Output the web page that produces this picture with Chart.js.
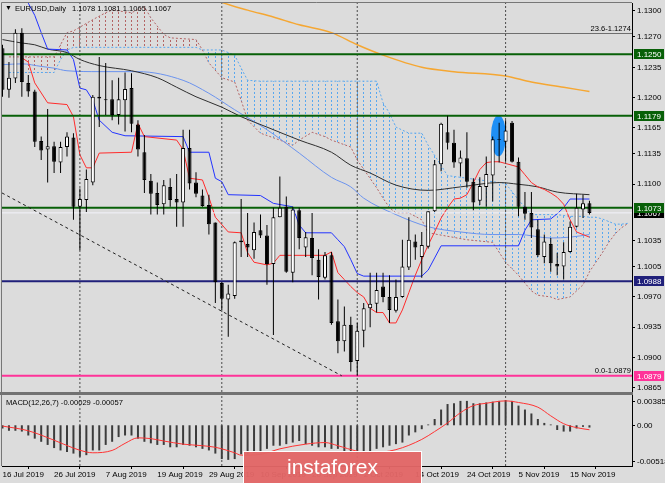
<!DOCTYPE html>
<html>
<head>
<meta charset="utf-8">
<script src="https://cdn.jsdelivr.net/npm/chart.js@4/dist/chart.umd.min.js"></script>
<style>
  html, body { margin: 0; padding: 0; background: #dcdcdc; }
  #wrap { position: relative; width: 665px; height: 483px; overflow: hidden; background: #dcdcdc; }
  #wrap canvas { position: absolute; left: 0; }
  #main { top: 0; }
  #macd { top: 395px; }
  #mark {
    position: absolute; left: 243px; top: 451px; width: 179px; height: 40px;
    box-sizing: border-box; border: 1px solid #fff; background: rgba(226, 102, 102, 0.96);
    color: #fff; font: 21px 'Liberation Sans', Arial, sans-serif; line-height: 30px; text-align: center;
  }
</style>
</head>
<body>
<div id="wrap">
  <canvas id="main" width="665" height="395"></canvas>
  <canvas id="macd" width="665" height="88"></canvas>
  <div id="mark">instaforex</div>
</div>
<script>
// EURUSD daily, Ichimoku + MAs + MACD(12,26,7)

const FONT = "'Liberation Sans', Arial, sans-serif";

// ── Data ─────────────────────────────────────────────────────

const OPEN = [
  1.1257, 1.1209, 1.1222, 1.1275, 1.1217, 1.1207, 1.1150, 1.1140, 1.1144, 1.1125,
  1.1143, 1.1154, 1.1074, 1.1082, 1.1102, 1.1201, 1.1197, 1.1198, 1.1180, 1.1197,
  1.1211, 1.1169, 1.1137, 1.1104, 1.1090, 1.1077, 1.1097, 1.1083, 1.1079, 1.1142,
  1.1102, 1.1087, 1.1076, 1.1056, 1.0986, 1.0967, 1.0971, 1.1035, 1.1031, 1.1024,
  1.1047, 1.1041, 1.1008, 1.1062, 1.1074, 1.0998, 1.1070, 1.1027, 1.1038, 1.1013,
  1.0992, 1.1018, 1.0942, 1.0919, 1.0938, 1.0896, 1.0931, 1.0957, 1.0962, 1.0982,
  1.0970, 1.0954, 1.0970, 1.1004, 1.1034, 1.1016, 1.1028, 1.1069, 1.1123, 1.1160,
  1.1148, 1.1124, 1.1130, 1.1103, 1.1081, 1.1097, 1.1110, 1.1152, 1.1149, 1.1171,
  1.1126, 1.1074, 1.1067, 1.1048, 1.1016, 1.1031, 1.1008, 1.1005, 1.1022, 1.1051,
  1.1071, 1.1078
];
const HIGH = [
  1.1261, 1.1241, 1.1279, 1.1280, 1.1226, 1.1209, 1.1155, 1.1187, 1.1149, 1.1149,
  1.1160, 1.1159, 1.1095, 1.1117, 1.1203, 1.1247, 1.1240, 1.1220, 1.1223, 1.1229,
  1.1228, 1.1174, 1.1157, 1.1112, 1.1102, 1.1105, 1.1107, 1.1112, 1.1163, 1.1163,
  1.1114, 1.1094, 1.1088, 1.1056, 1.0987, 1.0984, 1.1034, 1.1083, 1.1067, 1.1056,
  1.1065, 1.1053, 1.1073, 1.1109, 1.1086, 1.1074, 1.1073, 1.1045, 1.1067, 1.1025,
  1.1022, 1.1022, 1.0967, 1.0959, 1.0947, 1.0940, 1.0963, 1.0998, 1.0998, 1.0998,
  1.0995, 1.0990, 1.1036, 1.1062, 1.1042, 1.1045, 1.1069, 1.1128, 1.1171, 1.1179,
  1.1163, 1.1139, 1.1160, 1.1107, 1.1108, 1.1132, 1.1155, 1.1171, 1.1174, 1.1173,
  1.1131, 1.1091, 1.1091, 1.1059, 1.1042, 1.1038, 1.1021, 1.1033, 1.1057, 1.1089,
  1.1088, 1.1081
];
const LOW = [
  1.1201, 1.1200, 1.1217, 1.1201, 1.1201, 1.1143, 1.1128, 1.1102, 1.1113, 1.1113,
  1.1132, 1.1059, 1.1024, 1.1068, 1.1099, 1.1166, 1.1180, 1.1174, 1.1169, 1.1161,
  1.1160, 1.1132, 1.1090, 1.1065, 1.1065, 1.1065, 1.1074, 1.1051, 1.1051, 1.1094,
  1.1085, 1.1074, 1.1042, 1.0963, 1.0955, 1.0924, 1.0968, 1.1016, 1.1016, 1.1014,
  1.1038, 1.0984, 1.0926, 1.1062, 1.0998, 1.0987, 1.1025, 1.1016, 1.0995, 1.0967,
  1.0990, 1.0938, 1.0905, 1.0907, 1.0884, 1.0879, 1.0912, 1.0935, 1.0952, 1.0964,
  1.0940, 1.0952, 1.0969, 1.1001, 1.1013, 1.0992, 1.1026, 1.1068, 1.1115, 1.1140,
  1.1119, 1.1109, 1.1096, 1.1070, 1.1076, 1.1074, 1.1080, 1.1125, 1.1126, 1.1125,
  1.1063, 1.1059, 1.1038, 1.1016, 1.1009, 1.0999, 1.0995, 1.0990, 1.1021, 1.1050,
  1.1061, 1.1065
];
const CLOSE = [
  1.1209, 1.1223, 1.1275, 1.1218, 1.1207, 1.1149, 1.1139, 1.1144, 1.1126, 1.1143,
  1.1155, 1.1074, 1.1083, 1.1106, 1.1201, 1.1199, 1.1198, 1.1180, 1.1198, 1.1210,
  1.1170, 1.1140, 1.1105, 1.1089, 1.1076, 1.1099, 1.1082, 1.1079, 1.1142, 1.1101,
  1.1089, 1.1075, 1.1054, 1.0987, 1.0968, 1.0974, 1.1033, 1.1033, 1.1027, 1.1045,
  1.1041, 1.1008, 1.1062, 1.1073, 1.0999, 1.1071, 1.1038, 1.1039, 1.1015, 1.0993,
  1.1018, 1.0940, 1.0919, 1.0938, 1.0895, 1.0931, 1.0957, 1.0962, 1.0978, 1.0970,
  1.0955, 1.0970, 1.1005, 1.1036, 1.1027, 1.1030, 1.1069, 1.1123, 1.1170, 1.1148,
  1.1125, 1.1131, 1.1103, 1.1079, 1.1098, 1.1112, 1.1152, 1.1151, 1.1162, 1.1126,
  1.1074, 1.1066, 1.1050, 1.1018, 1.1034, 1.1009, 1.1005, 1.1022, 1.1051, 1.1073,
  1.1078, 1.1067
];

// [bar, price] points
const TENKAN = [
  [3, 1.1246], [4, 1.1241], [5, 1.1217], [7, 1.1194], [10, 1.1192], [11, 1.1178], [12, 1.1134],
  [13, 1.1119], [14, 1.1119], [15, 1.1136], [20, 1.1137], [21, 1.1170], [22, 1.1155], [27, 1.1151],
  [28, 1.1140], [29, 1.1107], [31, 1.1105], [32, 1.1085], [33, 1.1062], [35, 1.1045], [37, 1.1044],
  [38, 1.1021], [39, 1.1010], [41, 1.1007], [42, 1.1009], [43, 1.1018], [50, 1.1018], [51, 1.1022],
  [52, 1.0998], [53, 1.0990], [54, 1.0982], [55, 1.0975], [56, 1.0970], [57, 1.0957], [58, 1.0952],
  [59, 1.0952], [60, 1.0940], [61, 1.0940], [62, 1.0955], [63, 1.0975], [64, 1.0995], [65, 1.1013],
  [66, 1.1030], [67, 1.1045], [68, 1.1061], [69, 1.1073], [70, 1.1083], [71, 1.1084], [72, 1.1088],
  [73, 1.1102], [74, 1.1117], [75, 1.1125], [76, 1.1126], [77, 1.1126], [78, 1.1124], [79, 1.1122],
  [80, 1.1120], [81, 1.1111], [82, 1.1102], [83, 1.1097], [84, 1.1094], [85, 1.1090], [86, 1.1085],
  [87, 1.1077], [88, 1.1059], [89, 1.1045], [90, 1.1042], [91, 1.1039]
];
const KIJUN = [
  [3, 1.1324], [4, 1.1309], [5, 1.1295], [6, 1.1275], [7, 1.1256], [10, 1.1255], [11, 1.1244],
  [12, 1.1211], [13, 1.1209], [14, 1.1197], [15, 1.1174], [17, 1.1160], [19, 1.1156], [28, 1.1155],
  [29, 1.1137], [32, 1.1137], [33, 1.1107], [34, 1.1103], [35, 1.1088], [40, 1.1087], [42, 1.1078],
  [45, 1.1074], [46, 1.1053], [47, 1.1044], [51, 1.1044], [52, 1.1036], [53, 1.1028], [54, 1.1013],
  [55, 1.0997], [56, 1.0994], [65, 1.0994], [66, 1.1001], [67, 1.1015], [68, 1.1029], [80, 1.1029],
  [81, 1.1047], [82, 1.1059], [85, 1.1060], [86, 1.1066], [87, 1.1073], [88, 1.1083], [91, 1.1083]
];
const SPAN_A = [
  [1, 1.1229], [8, 1.1229], [9, 1.1244], [10, 1.1255], [11, 1.1258], [14, 1.1258], [16, 1.1258],
  [17, 1.1258], [20, 1.1258], [22, 1.1258], [23, 1.1258], [25, 1.1258], [26, 1.1258], [30, 1.1258],
  [31, 1.1255], [32, 1.1255], [34, 1.1255], [36, 1.1249], [37, 1.1234], [38, 1.1220], [40, 1.1219],
  [43, 1.1219], [45, 1.1219], [46, 1.1219], [48, 1.1219], [50, 1.1219], [51, 1.1219], [54, 1.1219],
  [55, 1.1219], [58, 1.1219], [59, 1.1194], [60, 1.1182], [61, 1.1166], [63, 1.1159], [65, 1.1159],
  [66, 1.1145], [69, 1.1110], [72, 1.1107], [76, 1.1103], [78, 1.1101], [80, 1.1082], [82, 1.1065],
  [83, 1.1065], [85, 1.1065], [86, 1.1065], [88, 1.1063], [90, 1.1063], [91, 1.1062], [92, 1.1062],
  [93, 1.1060], [94, 1.1057], [95, 1.1054], [96, 1.1054], [97, 1.1055]
];
const SPAN_B = [
  [1, 1.1247], [8, 1.1247], [9, 1.1261], [10, 1.1275], [11, 1.1277], [14, 1.1290], [16, 1.1298],
  [17, 1.1301], [20, 1.1298], [22, 1.1305], [23, 1.1292], [25, 1.1273], [26, 1.1269], [30, 1.1267],
  [31, 1.1255], [32, 1.1240], [34, 1.1223], [36, 1.1218], [37, 1.1197], [38, 1.1174], [40, 1.1159],
  [43, 1.1151], [45, 1.1145], [46, 1.1151], [48, 1.1160], [50, 1.1155], [51, 1.1151], [54, 1.1143],
  [55, 1.1128], [58, 1.1096], [59, 1.1084], [60, 1.1073], [61, 1.1067], [63, 1.1067], [65, 1.1059],
  [66, 1.1044], [69, 1.1040], [72, 1.1036], [76, 1.1033], [78, 1.1010], [80, 1.0995], [82, 1.0977],
  [83, 1.0972], [85, 1.0970], [86, 1.0967], [88, 1.0970], [90, 1.0984], [91, 1.0999], [92, 1.1010],
  [93, 1.1021], [94, 1.1033], [95, 1.1043], [96, 1.1050], [97, 1.1055]
];
const MA_SLOW = [
  [0, 1.1267], [3, 1.1263], [5, 1.1261], [7, 1.1256], [10, 1.1252], [12, 1.1244], [15, 1.1237],
  [20, 1.1231], [24, 1.1223], [27, 1.1212], [30, 1.1201], [34, 1.1189], [37, 1.1178], [41, 1.1166],
  [46, 1.1151], [51, 1.1137], [54, 1.1122], [57, 1.1113], [61, 1.1099], [66, 1.1093], [71, 1.1097],
  [77, 1.1102], [80, 1.1100], [83, 1.1097], [86, 1.1091], [91, 1.1088]
];
const MA_FAST = [
  [0, 1.1238], [3, 1.1239], [6, 1.1236], [8, 1.1234], [10, 1.1231], [15, 1.1230], [21, 1.1230],
  [28, 1.1220], [32, 1.1205], [36, 1.1186], [41, 1.1163], [46, 1.1136], [51, 1.1108], [54, 1.1097],
  [56, 1.1084], [61, 1.1065], [66, 1.1051], [71, 1.1045], [76, 1.1042], [80, 1.1042], [85, 1.1038],
  [88, 1.1039], [91, 1.1042]
];
const MA_200 = [
  [31, 1.1320], [34, 1.1310], [38, 1.1301], [42, 1.1293], [46, 1.1284], [51, 1.1275], [55, 1.1261],
  [59, 1.1249], [65, 1.1235], [70, 1.1230], [78, 1.1225], [82, 1.1218], [87, 1.1212], [91, 1.1207]
];

const MACD_HIST = [
  -0.0004, -0.0007, -0.0007, -0.0008, -0.0013, -0.0017, -0.0021, -0.0025, -0.0029, -0.0032,
  -0.0034, -0.0036, -0.0040, -0.0038, -0.0032, -0.0032, -0.0025, -0.0021, -0.0015, -0.0013,
  -0.0013, -0.0017, -0.0021, -0.0023, -0.0025, -0.0025, -0.0028, -0.0028, -0.0025, -0.0026,
  -0.0028, -0.0030, -0.0032, -0.0036, -0.0043, -0.0044, -0.0043, -0.0037, -0.0037, -0.0035,
  -0.0033, -0.0030, -0.0026, -0.0026, -0.0024, -0.0022, -0.0020, -0.0024, -0.0026, -0.0028,
  -0.0028, -0.0030, -0.0030, -0.0033, -0.0033, -0.0035, -0.0033, -0.0033, -0.0030, -0.0028,
  -0.0026, -0.0024, -0.0022, -0.0013, -0.0009, -0.0005, 0.0001, 0.0008, 0.0020, 0.0027,
  0.0028, 0.0031, 0.0031, 0.0028, 0.0028, 0.0029, 0.0030, 0.0031, 0.0032, 0.0031,
  0.0025, 0.0020, 0.0015, 0.0008, 0.0003, 0.0001, -0.0006, -0.0008, -0.0008, -0.0004,
  -0.0002, -0.00029
];
const MACD_SIGNAL = [
  [0, -0.0001], [4, -0.0007], [8, -0.0019], [11, -0.0029], [13, -0.0034], [14, -0.0035],
  [17, -0.0032], [19, -0.0023], [21, -0.0016], [23, -0.0017], [25, -0.0020], [28, -0.0024],
  [31, -0.0026], [33, -0.0028], [36, -0.0035], [37, -0.0038], [40, -0.0037], [43, -0.0030],
  [47, -0.0024], [50, -0.0022], [52, -0.0026], [55, -0.0033], [57, -0.0035], [61, -0.0031],
  [65, -0.0018], [67, -0.0008], [69, 0.0003], [71, 0.0016], [73, 0.0025], [75, 0.0028],
  [78, 0.0031], [80, 0.0029], [83, 0.0023], [85, 0.0012], [87, 0.0002], [89, -0.0003], [91, -0.00057]
];

const LEVELS = [1.1274, 1.1250, 1.1179, 1.1073, 1.0988, 1.0879];
const FIB_NAMES = ['23.6', '0.0'];
const FIB_LEVELS = [1.1274, 1.0879];
const TREND = [[-0.08, 1.1090], [52.6, 1.0879]];
const VLINE_BARS = [12, 34, 55, 78];
const PRICE_TICKS = [1.1300, 1.1270, 1.1235, 1.1200, 1.1165, 1.1135, 1.1100, 1.1035, 1.1005, 1.0970, 1.0935, 1.0900, 1.0865];
const MACD_TICKS = [0.00385, 0.00, -0.00518];
const DATE_BARS = [0, 8, 16, 24, 32, 40, 48, 56, 64, 72, 80, 88];
const DATES = ['16 Jul 2019', '26 Jul 2019', '7 Aug 2019', '19 Aug 2019', '29 Aug 2019', '10 Sep 2019',
  '20 Sep 2019', '2 Oct 2019', '14 Oct 2019', '24 Oct 2019', '5 Nov 2019', '15 Nov 2019'];
const MARK = { bar: 76.9, price: 1.1156, halfBars: 1.16, halfPrice: 0.00237 };

// ── Axes ranges & styles ─────────────────────────────────────

const X_MIN = -0.0775, X_MAX = 97.597;
const P_MIN = 1.08603, P_MAX = 1.13092;
const M_MIN = MACD_TICKS[2], M_MAX = MACD_TICKS[0];

const LEVEL_STYLE = [
  { color: '#6e6e6e', width: 1 },
  { color: '#086008', width: 2 },
  { color: '#086008', width: 2 },
  { color: '#086008', width: 2 },
  { color: '#20207a', width: 2 },
  { color: '#ff3399', width: 2 },
];
const BOXES = [
  { v: 1.1250, bg: '#086008' }, { v: 1.1179, bg: '#086008' },
  { v: CLOSE[CLOSE.length - 1], bg: '#000000' }, { v: 1.1073, bg: '#086008' },
  { v: 1.0988, bg: '#20207a' }, { v: 1.0879, bg: '#ff3399' },
];

Chart.defaults.font.family = FONT;
Chart.defaults.font.size = 8;
Chart.defaults.color = '#000';

const IDX = OPEN.map((_, i) => i);
const pts = arr => arr.map(([x, y]) => ({ x, y }));

function line(data, color, width, order, extra) {
  return Object.assign({
    type: 'line', data, borderColor: color, borderWidth: width,
    pointRadius: 0, fill: false, tension: 0, order,
  }, extra || {});
}

function hatch(ctx, color) {
  const c = document.createElement('canvas');
  c.width = 129; c.height = 4;
  const g = c.getContext('2d');
  g.fillStyle = color;
  for (let k = 0; k < 20; k++) g.fillRect(Math.floor(2.5 + 6.45 * k), 0, 1, 2);
  return ctx.createPattern(c, 'repeat');
}

// ── Main price panel ─────────────────────────────────────────

const mainCtx = document.getElementById('main').getContext('2d');
const cloudUp = hatch(mainCtx, '#59a8f0');
const cloudDown = hatch(mainCtx, '#b46464');

const mainDecor = {
  id: 'mainDecor',
  beforeDatasetsDraw(chart) {
    const { ctx, scales: { x, y } } = chart;
    const cx = x.getPixelForValue(MARK.bar), cy = y.getPixelForValue(MARK.price);
    const rx = x.getPixelForValue(MARK.bar + MARK.halfBars) - cx;
    const ry = cy - y.getPixelForValue(MARK.price + MARK.halfPrice);
    ctx.save();
    ctx.fillStyle = '#1e8ff5';
    ctx.beginPath();
    ctx.ellipse(cx, cy, rx, ry, 0, 0, Math.PI * 2);
    ctx.fill();
    ctx.restore();
  },
  afterDraw(chart) {
    const { ctx, chartArea: a, scales: { y } } = chart;
    ctx.save();
    // frame and panel separator
    ctx.strokeStyle = '#777';
    ctx.lineWidth = 1;
    ctx.beginPath();
    ctx.moveTo(1.5, a.bottom); ctx.lineTo(1.5, 2.5); ctx.lineTo(a.right, 2.5);
    ctx.stroke();
    ctx.fillStyle = '#727272';
    ctx.fillRect(0, a.bottom, a.right + 1, 3);

    // title
    const n = CLOSE.length - 1;
    ctx.fillStyle = '#000';
    ctx.textBaseline = 'middle';
    ctx.font = '7px ' + FONT;
    ctx.fillText('\u25BC', 5, 8.5);
    ctx.font = '7.6px ' + FONT;
    ctx.fillText('EURUSD,Daily', 15, 8.5);
    ctx.fillText([OPEN[n], HIGH[n], LOW[n], CLOSE[n]].map(v => v.toFixed(4)).join(' '), 72, 8.5);

    // fibo texts
    ctx.textAlign = 'right';
    ctx.textBaseline = 'bottom';
    FIB_LEVELS.forEach((v, k) => {
      ctx.fillText(FIB_NAMES[k] + '-' + v.toFixed(4), a.right - 1, y.getPixelForValue(v) - 1);
    });

    // price boxes on the axis
    ctx.textAlign = 'left';
    ctx.textBaseline = 'middle';
    ctx.font = '8px ' + FONT;
    BOXES.forEach(b => {
      const py = Math.round(y.getPixelForValue(b.v));
      ctx.fillStyle = b.bg;
      ctx.fillRect(a.right + 2, py - 5, 30, 10);
      ctx.fillStyle = '#fff';
      ctx.fillText(b.v.toFixed(4), a.right + 5, py + 0.5);
    });
    ctx.restore();
  }
};

const mainSets = [
  {
    type: 'bar', data: IDX.map(i => ({ x: i, y: [OPEN[i], CLOSE[i]] })),
    backgroundColor: IDX.map(i => CLOSE[i] >= OPEN[i] ? '#ffffff' : '#000000'),
    borderColor: '#000', borderWidth: 1, borderSkipped: false,
    barThickness: 4, grouped: false, inflateAmount: 0, order: 0,
  },
  {
    type: 'bar', data: IDX.map(i => ({ x: i, y: [LOW[i], HIGH[i]] })),
    backgroundColor: '#000', barThickness: 1, grouped: false, inflateAmount: 0, order: 1,
  },
  line(pts(TREND), '#202020', 1, 2, { borderDash: [3, 3] }),
  ...LEVELS.map((v, k) => line([{ x: X_MIN, y: v }, { x: X_MAX, y: v }], LEVEL_STYLE[k].color, LEVEL_STYLE[k].width, 3)),
  line([{ x: X_MIN, y: CLOSE[CLOSE.length - 1] }, { x: X_MAX, y: CLOSE[CLOSE.length - 1] }], '#f2f2fa', 1, 3),
  ...VLINE_BARS.map(b => line([{ x: b, y: P_MIN }, { x: b, y: P_MAX }], '#4a4a4a', 1, 4, { borderDash: [2, 2] })),
  line(pts(TENKAN), '#ff2b2b', 1, 5),
  line(pts(KIJUN), '#2233ff', 1, 5),
  line(pts(MA_SLOW), '#2e2e2e', 1, 6, { cubicInterpolationMode: 'monotone' }),
  line(pts(MA_FAST), '#6b93ee', 1, 6, { cubicInterpolationMode: 'monotone' }),
  line(pts(MA_200), '#f5a733', 1.5, 6, { cubicInterpolationMode: 'monotone' }),
  line(pts(SPAN_A), '#59a8f0', 1, 7, { borderDash: [2, 2], fill: { target: '+1', above: cloudUp, below: cloudDown } }),
  line(pts(SPAN_B), '#b46464', 1, 8, { borderDash: [2, 2] }),
];

new Chart(mainCtx, {
  type: 'bar',
  data: { datasets: mainSets },
  options: {
    responsive: false,
    animation: false,
    events: [],
    layout: { padding: { left: 2, top: 3, right: 0, bottom: 3 } },
    plugins: { legend: { display: false }, tooltip: { enabled: false } },
    scales: {
      x: { type: 'linear', min: X_MIN, max: X_MAX, bounds: 'data', offset: false, display: false },
      y: {
        position: 'right', min: P_MIN, max: P_MAX, bounds: 'data',
        afterBuildTicks: s => { s.ticks = PRICE_TICKS.map(value => ({ value })); },
        afterFit: s => { s.width = 33; s.paddingTop = 0; s.paddingBottom = 0; },
        ticks: { callback: v => v.toFixed(4), padding: 2, autoSkip: false, color: '#000', font: { size: 8 } },
        grid: { drawOnChartArea: false, tickLength: 3, color: '#000' },
        border: { color: '#000' },
      }
    }
  },
  plugins: [mainDecor]
});

// ── MACD panel ───────────────────────────────────────────────

const macdDecor = {
  id: 'macdDecor',
  afterDraw(chart) {
    const { ctx, chartArea: a, scales: { y } } = chart;
    ctx.save();
    ctx.strokeStyle = '#777';
    ctx.lineWidth = 1;
    ctx.beginPath();
    ctx.moveTo(1.5, 0); ctx.lineTo(1.5, a.bottom);
    ctx.stroke();

    ctx.fillStyle = '#000';
    ctx.textBaseline = 'middle';
    ctx.font = '7.6px ' + FONT;
    const last = MACD_SIGNAL[MACD_SIGNAL.length - 1][1];
    ctx.fillText('MACD(12,26,7) ' + MACD_HIST[MACD_HIST.length - 1].toFixed(5) + ' ' + last.toFixed(5), 6, 7.5);

    ctx.font = '8px ' + FONT;
    const nudge = [6, 0, -5];
    MACD_TICKS.forEach((v, k) => {
      const py = Math.round(y.getPixelForValue(v)) + nudge[k];
      ctx.fillRect(a.right, py, 3, 1);
      ctx.fillText(v === 0 ? '0.00' : v.toFixed(5), a.right + 5, py + 0.5);
    });
    ctx.restore();
  }
};

new Chart(document.getElementById('macd'), {
  type: 'bar',
  data: {
    datasets: [
      line(pts(MACD_SIGNAL), '#ff3333', 1, 1, { cubicInterpolationMode: 'monotone' }),
      {
        type: 'bar', data: IDX.map(i => ({ x: i, y: MACD_HIST[i] })),
        backgroundColor: '#3c3c3c', barThickness: 2, grouped: false, inflateAmount: 0, order: 2,
      },
      ...VLINE_BARS.map(b => line([{ x: b, y: M_MIN }, { x: b, y: M_MAX }], '#4a4a4a', 1, 3, { borderDash: [2, 2] })),
    ]
  },
  options: {
    responsive: false,
    animation: false,
    events: [],
    layout: { padding: { left: 2, top: 0, right: 0, bottom: 0 } },
    plugins: { legend: { display: false }, tooltip: { enabled: false } },
    scales: {
      x: {
        type: 'linear', min: X_MIN, max: X_MAX, bounds: 'data', offset: false, position: 'bottom',
        afterBuildTicks: s => { s.ticks = DATE_BARS.map(value => ({ value })); },
        afterFit: s => { s.height = 17; s.paddingLeft = 0; s.paddingRight = 0; },
        ticks: {
          callback: (v, i) => DATES[i], autoSkip: false, maxRotation: 0, minRotation: 0,
          align: 'start', padding: 1, color: '#000', font: { size: 8 },
        },
        grid: { drawOnChartArea: false, tickLength: 3, color: '#000' },
        border: { color: '#000' },
      },
      y: {
        position: 'right', min: M_MIN, max: M_MAX, bounds: 'data',
        afterFit: s => { s.width = 33; s.paddingTop = 0; s.paddingBottom = 0; },
        ticks: { display: false },
        grid: { display: false },
        border: { color: '#000' },
      }
    }
  },
  plugins: [macdDecor]
});
</script>
</body>
</html>
